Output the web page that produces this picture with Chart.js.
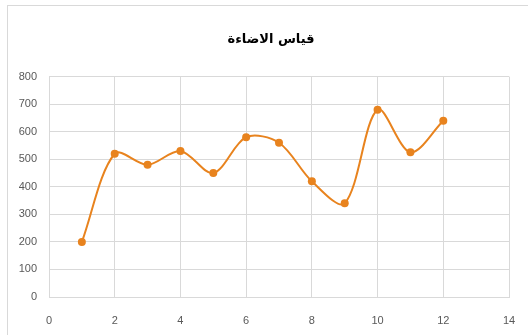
<!DOCTYPE html>
<html>
<head>
<meta charset="utf-8">
<script src="https://cdn.jsdelivr.net/npm/chart.js@4"></script>
<style>
html,body{margin:0;padding:0;background:#fff;}
#wrap{position:relative;width:528px;height:335px;overflow:hidden;}
#frame{position:absolute;left:7px;top:5px;width:540px;height:360px;border:1px solid #d9d9d9;box-sizing:border-box;}
canvas{position:absolute;left:0;top:0;}
</style>
</head>
<body>
<div id="wrap"><div id="frame"></div><canvas id="c" width="528" height="335"></canvas></div>
<script>
const chartTitle = "قياس الاضاءة";
const xValues = [1, 2, 3, 4, 5, 6, 7, 8, 9, 10, 11, 12];
const yValues = [200, 520, 480, 530, 450, 580, 560, 420, 340, 680, 525, 640];
const xTicks = [0, 2, 4, 6, 8, 10, 12, 14];
const yTicks = [0, 100, 200, 300, 400, 500, 600, 700, 800];

const points = xValues.map((x, i) => ({x: x, y: yValues[i]}));
const orange = '#E8831E';

const shiftTitle = {
  id: 'shiftTitle',
  afterLayout(chart) {
    if (chart.titleBlock) { chart.titleBlock.left = 14; chart.titleBlock.right = 528; }
  }
};

new Chart(document.getElementById('c'), {
  type: 'scatter',
  plugins: [shiftTitle],
  data: {
    datasets: [{
      data: points,
      showLine: true,
      borderColor: orange,
      backgroundColor: orange,
      borderWidth: 2,
      pointRadius: 4,
      pointBorderWidth: 0,
      tension: 0.32
    }]
  },
  options: {
    responsive: false,
    animation: false,
    layout: {padding: {left: 0, right: 19, top: 0, bottom: 4}},
    plugins: {
      legend: {display: false},
      tooltip: {enabled: false},
      title: {
        display: true,
        text: chartTitle,
        color: '#000',
        font: {family: 'DejaVu Sans', size: 13, weight: 'bold'},
        padding: {top: 32, bottom: 29}
      }
    },
    scales: {
      x: {
        type: 'linear',
        min: 0, max: 14,
        afterBuildTicks: s => { s.ticks = xTicks.map(v => ({value: v})); },
        grid: {color: '#d9d9d9', drawTicks: false},
        border: {color: '#d9d9d9'},
        ticks: {color: '#595959', font: {family: 'Liberation Sans', size: 11}, padding: 17},
        afterFit: s => { s.height = 34; s.paddingLeft = 0; s.paddingRight = 0; }
      },
      y: {
        min: 0, max: 800,
        afterBuildTicks: s => { s.ticks = yTicks.map(v => ({value: v})); },
        grid: {color: '#d9d9d9', drawTicks: false},
        border: {color: '#d9d9d9'},
        ticks: {color: '#595959', font: {family: 'Liberation Sans', size: 11}, padding: 12},
        afterFit: s => { s.width = 49; s.paddingTop = 0; s.paddingBottom = 0; }
      }
    }
  }
});
</script>
</body>
</html>
